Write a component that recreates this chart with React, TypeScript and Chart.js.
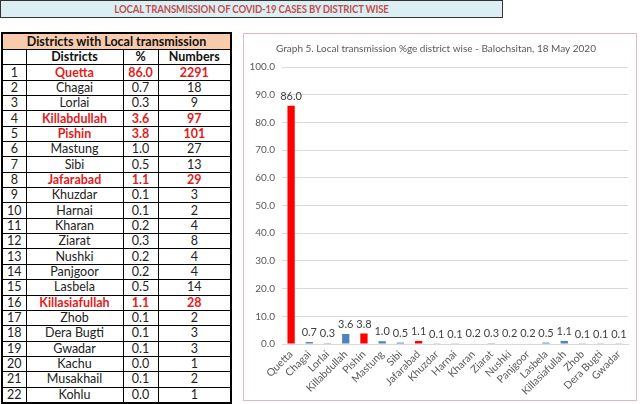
import React, { useEffect, useRef } from "react";
import { Chart, registerables } from "chart.js";

Chart.register(...registerables);

const pageTitle = "LOCAL TRANSMISSION OF COVID-19 CASES BY DISTRICT WISE";
const tableTitle = "Districts with Local transmission";
const tableHeaders = ["", "Districts", "%", "Numbers"];
const districts = [
  "Quetta", "Chagai", "Lorlai", "Killabdullah", "Pishin", "Mastung", "Sibi", "Jafarabad",
  "Khuzdar", "Harnai", "Kharan", "Ziarat", "Nushki", "Panjgoor", "Lasbela", "Killasiafullah",
  "Zhob", "Dera Bugti", "Gwadar", "Kachu", "Musakhail", "Kohlu",
];
const percents = [
  86.0, 0.7, 0.3, 3.6, 3.8, 1.0, 0.5, 1.1, 0.1, 0.1, 0.2, 0.3, 0.2, 0.2, 0.5, 1.1, 0.1, 0.1, 0.1, 0.0, 0.1, 0.0,
];
const numbers = [2291, 18, 9, 97, 101, 27, 13, 29, 3, 2, 4, 8, 4, 4, 14, 28, 2, 3, 3, 1, 2, 1];
const tableHighlighted = ["Quetta", "Killabdullah", "Pishin", "Jafarabad", "Killasiafullah"];

const chartTitle = "Graph 5. Local transmission %ge district wise - Balochsitan, 18 May 2020";
const chartCategories = districts.slice(0, 19);
const chartValues = percents.slice(0, 19);
const chartRed = ["Quetta", "Pishin", "Jafarabad"];
const yTicks = [0, 10, 20, 30, 40, 50, 60, 70, 80, 90, 100];

const FONT = "Lato, 'Open Sans', sans-serif";

const valueLabelPlugin = {
  id: "valueLabels",
  afterDatasetsDraw(chart: any) {
    const ctx = chart.ctx;
    const meta = chart.getDatasetMeta(0);
    ctx.save();
    ctx.font = `11px ${FONT}`;
    ctx.fillStyle = "#404040";
    ctx.textAlign = "center";
    ctx.textBaseline = "bottom";
    meta.data.forEach((bar: any, i: number) => {
      const v = chart.data.datasets[0].data[i];
      ctx.fillText(Number(v).toFixed(1), bar.x, bar.y - 4);
    });
    ctx.restore();
  },
};

function BarChart() {
  const ref = useRef<HTMLCanvasElement | null>(null);
  useEffect(() => {
    if (!ref.current) return;
    const chart = new Chart(ref.current, {
      type: "bar",
      data: {
        labels: chartCategories,
        datasets: [
          {
            data: chartValues,
            backgroundColor: chartCategories.map((c) => (chartRed.includes(c) ? "#ff0000" : "#4f81bd")),
            barPercentage: 0.4,
            categoryPercentage: 1,
          },
        ],
      },
      options: {
        animation: false,
        responsive: false,
        maintainAspectRatio: false,
        layout: { padding: { left: 0, right: 8, top: 0, bottom: 0 } },
        plugins: {
          legend: { display: false },
          tooltip: { enabled: false },
          title: {
            display: true,
            text: chartTitle,
            color: "#595959",
            font: { family: FONT, size: 10, weight: "normal" },
            padding: { top: 9, bottom: 12 },
          },
        },
        scales: {
          x: {
            grid: { display: false, drawTicks: false },
            border: { display: true, color: "#d9d9d9" },
            ticks: {
              color: "#595959",
              font: { family: FONT, size: 10.5 },
              maxRotation: 45,
              minRotation: 45,
              autoSkip: false,
              padding: 4,
            },
            afterFit(scale: any) {
              scale.height = 56;
            },
          },
          y: {
            min: 0,
            max: 100,
            afterBuildTicks(scale: any) {
              scale.ticks = yTicks.map((v) => ({ value: v }));
            },
            grid: { color: "#d9d9d9", drawTicks: false },
            border: { display: false },
            ticks: {
              color: "#595959",
              font: { family: FONT, size: 10 },
              padding: 7,
              callback: (v: any) => Number(v).toFixed(1),
            },
            afterFit(scale: any) {
              scale.width = 38;
            },
          },
        },
      },
      plugins: [valueLabelPlugin],
    });
    return () => chart.destroy();
  }, []);
  return <canvas ref={ref} width={392} height={366} style={{ display: "block", width: 392, height: 366 }} />;
}

const cellBase: React.CSSProperties = {
  border: "1px solid #000",
  padding: 0,
  textAlign: "center",
  height: 14.35,
  lineHeight: "14px",
  fontSize: 12.5,
  color: "#222",
};

export default function App() {
  return (
    <div style={{ position: "absolute", left: 0, top: 0, width: 640, height: 404, background: "#fff", fontFamily: FONT, overflow: "hidden" }}>
      <div
        style={{
          position: "absolute",
          left: 0,
          top: 0,
          width: 501,
          height: 16,
          background: "#dbeef4",
          border: "1px solid #333",
          color: "#c0504d",
          fontSize: 12,
          fontWeight: 700,
          lineHeight: "16px",
          textAlign: "center",
          whiteSpace: "nowrap",
        }}
      >
        <span style={{ display: "inline-block", transform: "scaleX(0.8)", transformOrigin: "center", letterSpacing: -0.2 }}>{pageTitle}</span>
      </div>

      <table
        style={{
          position: "absolute",
          left: 1,
          top: 32,
          width: 229,
          borderCollapse: "collapse",
          border: "2px solid #000",
          tableLayout: "fixed",
        }}
      >
        <colgroup>
          <col style={{ width: 24 }} />
          <col style={{ width: 97 }} />
          <col style={{ width: 35 }} />
          <col style={{ width: 73 }} />
        </colgroup>
        <tbody>
          <tr>
            <td colSpan={4} style={{ ...cellBase, height: 15, lineHeight: "15px", background: "#f8cbad", fontWeight: 700, color: "#111" }}>
              {tableTitle}
            </td>
          </tr>
          <tr>
            {tableHeaders.map((h, i) => (
              <td key={i} style={{ ...cellBase, fontWeight: 700, color: "#111" }}>
                {h}
              </td>
            ))}
          </tr>
          {districts.map((d, i) => {
            const hi = tableHighlighted.includes(d);
            const s: React.CSSProperties = hi ? { ...cellBase, color: "#e31b1b", fontWeight: 700 } : cellBase;
            return (
              <tr key={d}>
                <td style={cellBase}>{i + 1}</td>
                <td style={s}>{d}</td>
                <td style={s}>{percents[i].toFixed(1)}</td>
                <td style={s}>{numbers[i]}</td>
              </tr>
            );
          })}
        </tbody>
      </table>

      <div
        style={{
          position: "absolute",
          left: 243,
          top: 33,
          width: 392,
          height: 366,
          border: "1px solid #e3b6bd",
        }}
      >
        <BarChart />
      </div>
    </div>
  );
}
